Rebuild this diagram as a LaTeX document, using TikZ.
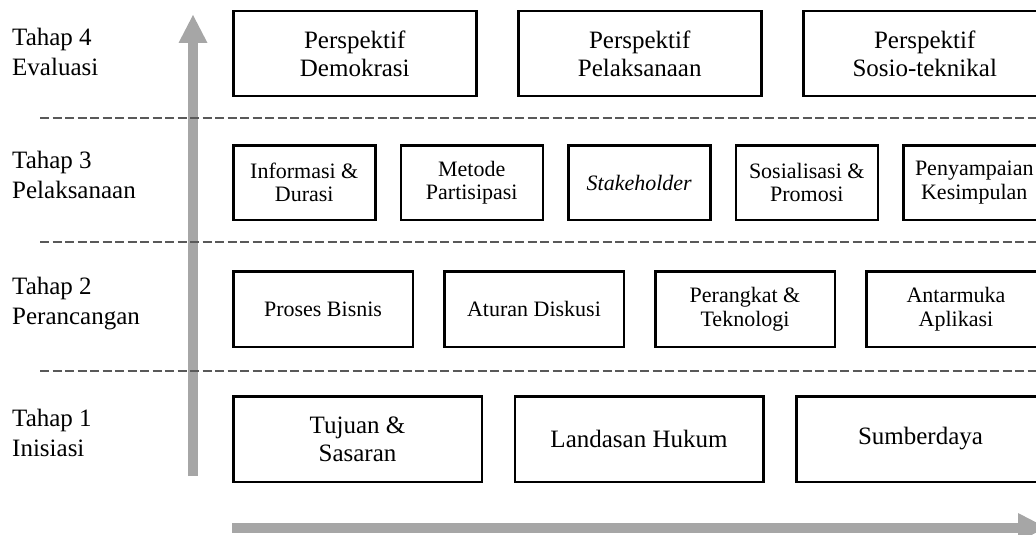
\documentclass[tikz,border=0pt]{standalone}
\usepackage{fontspec}
\setmainfont{Liberation Serif}
\usetikzlibrary{arrows.meta,positioning}

\begin{document}
\begin{tikzpicture}[x=1pt, y=-1pt,
	basic/.style  = {draw, line width=2.5pt, rectangle, align=center, inner sep=0pt},
	level 4/.style = {basic, font=\fontsize{25}{28}\selectfont, minimum width=243pt, minimum height=84.5pt},
	level 3/.style = {basic, font=\fontsize{22}{23.5}\selectfont, minimum width=142pt, minimum height=74.5pt},
	level 2/.style = {basic, font=\fontsize{22}{23.5}\selectfont, minimum width=179.5pt, minimum height=75.5pt},
	level 1/.style = {basic, font=\fontsize{25}{28}\selectfont, minimum width=248.5pt, minimum height=85.5pt},
	stage/.style = {anchor=west, align=left, inner sep=0pt, font=\fontsize{25}{30}\selectfont},
	divider/.style = {black!65, line width=1.3pt, dash pattern=on 9pt off 3.5pt},
	axis/.style = {black!35, line width=10pt, -{Triangle[length=28pt, width=29pt, line width=0pt]}}]

	\useasboundingbox (0,0) rectangle (1036,535);
	\clip (0,0) rectangle (1036,535);

	% the two grey arrows
	\coordinate (vbot) at (193,476);
	\coordinate (vtop) at (193,15);
	\coordinate (hbeg) at (232,527.5);
	\coordinate (hend) at (1046,527.5);
	\draw[axis] (vbot) -- (vtop);
	\draw[axis] (hbeg) -- (hend);

	% dashed lines between the stages
	\foreach \y [count=\i] in {118,242,371}
	{
		\coordinate (d\i a) at (40,\y);
		\coordinate (d\i b) at (1040,\y);
		\draw[divider] (d\i a) -- (d\i b);
	}

	% names of the stages
	\node[stage] (s4) at (12,52) {Tahap 4\\Evaluasi};
	\node[stage] (s3) at (12,175) {Tahap 3\\Pelaksanaan};
	\node[stage] (s2) at (12,304) {Tahap 2\\Perancangan};
	\node[stage] (s1) at (12,433) {Tahap 1\\Inisiasi};

	% Tahap 4, relatively positioned nodes
	\begin{scope}[every node/.style={level 4}]
		\node[anchor=west] (c41) at (232,53.5) {Perspektif\\Demokrasi};
		\node[right=39.5pt of c41] (c42) {Perspektif\\Pelaksanaan};
		\node[right=39.5pt of c42] (c43) {Perspektif\\Sosio-teknikal};
	\end{scope}

	% Tahap 3
	\begin{scope}[every node/.style={level 3}]
		\node[anchor=west] (c31) at (232,182.5) {Informasi \&\\Durasi};
		\node[right=23pt of c31] (c32) {Metode\\Partisipasi};
		\node[right=23pt of c32] (c33) {\textit{Stakeholder}};
		\node[right=23pt of c33] (c34) {Sosialisasi \&\\Promosi};
		\node[right=23pt of c34] (c35) {Penyampaian\\Kesimpulan};
	\end{scope}

	% Tahap 2
	\begin{scope}[every node/.style={level 2}]
		\node[anchor=west] (c21) at (232,309) {Proses Bisnis};
		\node[right=29pt of c21] (c22) {Aturan Diskusi};
		\node[right=29pt of c22] (c23) {Perangkat \&\\Teknologi};
		\node[right=29pt of c23] (c24) {Antarmuka\\Aplikasi};
	\end{scope}

	% Tahap 1
	\begin{scope}[every node/.style={level 1}]
		\node[anchor=west] (c11) at (232,439) {Tujuan \&\\Sasaran};
		\node[right=30.5pt of c11] (c12) {Landasan Hukum};
		\node[right=30.5pt of c12] (c13) {Sumberdaya};
	\end{scope}

\end{tikzpicture}
\end{document}
